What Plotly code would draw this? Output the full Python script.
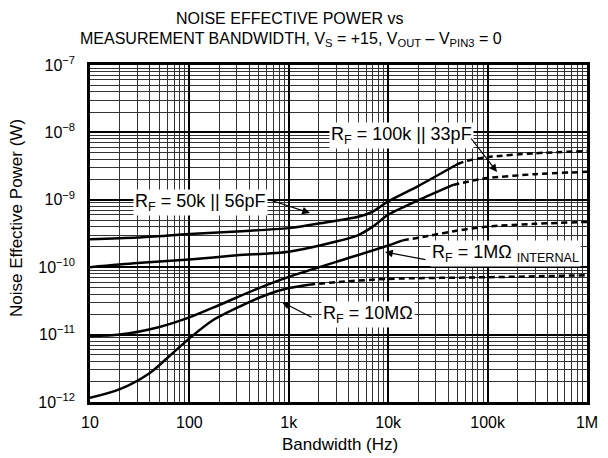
import plotly.graph_objects as go

# ---------------- data ----------------
a_solid_f = [10, 30, 100, 300, 1000, 2500, 5000, 7000, 10000, 20000, 50000]
a_solid_p = [2.6e-10, 2.75e-10, 3.1e-10, 3.4e-10, 3.8e-10, 4.7e-10, 5.6e-10, 6.7e-10, 9.5e-10, 1.6e-9, 3.4e-9]
a_dash_f = [50000, 62000, 100000, 300000, 1000000]
a_dash_p = [3.4e-9, 3.8e-9, 4.3e-9, 4.9e-9, 5.3e-9]

b_solid_f = [10, 30, 100, 300, 1000, 3000, 5000, 7000, 10000, 20000, 45000]
b_solid_p = [1.0e-10, 1.15e-10, 1.3e-10, 1.5e-10, 1.7e-10, 2.4e-10, 3.0e-10, 4.0e-10, 6.0e-10, 9.8e-10, 1.66e-9]
b_dash_f = [45000, 80000, 100000, 300000, 1000000]
b_dash_p = [1.66e-9, 2.0e-9, 2.1e-9, 2.4e-9, 2.6e-9]

c_solid_f = [10, 20, 50, 100, 200, 500, 1000, 3000, 10000, 14000]
c_solid_p = [9.5e-12, 1.0e-11, 1.3e-11, 1.8e-11, 2.75e-11, 4.9e-11, 7.2e-11, 1.2e-10, 2.1e-10, 2.5e-10]
c_dash_f = [14000, 25000, 50000, 100000, 300000, 1000000]
c_dash_p = [2.5e-10, 2.9e-10, 3.5e-10, 4.0e-10, 4.4e-10, 4.7e-10]

d_solid_f = [10, 20, 40, 60, 100, 175, 300, 600, 1000, 1600]
d_solid_p = [1.15e-12, 1.55e-12, 2.7e-12, 4.5e-12, 8.8e-12, 1.66e-11, 2.5e-11, 3.9e-11, 4.9e-11, 5.5e-11]
d_dash_f = [1600, 3000, 10000, 100000, 1000000]
d_dash_p = [5.5e-11, 6.0e-11, 6.7e-11, 7.1e-11, 7.6e-11]

x_tick_vals = [10, 100, 1000, 10000, 100000, 1000000]
x_tick_text = ["10", "100", "1k", "10k", "100k", "1M"]
y_tick_vals = [1e-12, 1e-11, 1e-10, 1e-9, 1e-8, 1e-7]
y_tick_text = ["10<sup>−12</sup>", "10<sup>−11</sup>", "10<sup>−10</sup>",
               "10<sup>−9</sup>", "10<sup>−8</sup>", "10<sup>−7</sup>"]

labels = ["R<sub>F</sub> = 50k || 56pF",
          "R<sub>F</sub> = 100k || 33pF",
          "R<sub>F</sub> = 1MΩ <sub>INTERNAL</sub>",
          "R<sub>F</sub> = 10MΩ"]

title_1 = "NOISE EFFECTIVE POWER vs"
title_2 = "MEASUREMENT BANDWIDTH, V<sub>S</sub> = +15, V<sub>OUT</sub> – V<sub>PIN3</sub> = 0"
x_title = "Bandwidth (Hz)"
y_title = "Noise Effective Power (W)"

# ---------------- layout geometry ----------------
OFF = 8  # page body margin
W, H = 608 - OFF, 458 - OFF
PLOT_L, PLOT_R, PLOT_T, PLOT_B = 90, 587, 65, 402  # in window pixels
ML, MT = PLOT_L - OFF, PLOT_T - OFF
MR = W - (PLOT_R - OFF)
MB = H - (PLOT_B - OFF)
PW, PH = PLOT_R - PLOT_L, PLOT_B - PLOT_T
FONT = "Liberation Sans, Arial, Helvetica, sans-serif"


def px(xp):
    return (xp - PLOT_L) / PW


def py(yp):
    return (PLOT_B - yp) / PH


fig = go.Figure()
LW = 2.5
for (sf, sp), (df, dp) in [((a_solid_f, a_solid_p), (a_dash_f, a_dash_p)),
                           ((b_solid_f, b_solid_p), (b_dash_f, b_dash_p)),
                           ((c_solid_f, c_solid_p), (c_dash_f, c_dash_p)),
                           ((d_solid_f, d_solid_p), (d_dash_f, d_dash_p))]:
    fig.add_trace(go.Scatter(x=sf, y=sp, mode="lines",
                             line=dict(color="black", width=LW, shape="spline", smoothing=0.8),
                             showlegend=False, hoverinfo="skip"))
    fig.add_trace(go.Scatter(x=df, y=dp, mode="lines",
                             line=dict(color="black", width=LW, shape="spline", smoothing=0.8,
                                       dash="6px,4px"),
                             showlegend=False, hoverinfo="skip"))

annotations = []
label_pos = [(200, 202), (401, 136), (505, 254), (368, 314)]
for txt, (cx, cy) in zip(labels, label_pos):
    annotations.append(dict(text=txt, x=px(cx), y=py(cy), xref="paper", yref="paper",
                            showarrow=False, xanchor="center", yanchor="middle",
                            bgcolor="white", borderpad=1,
                            font=dict(family=FONT, size=18, color="black")))
arrows = [((270, 200), (310, 213)), ((470, 137), (497, 172)),
          ((427, 260), (385, 252)), ((313, 318), (282, 302))]
for (tx, ty), (hx, hy) in arrows:
    annotations.append(dict(text="", x=px(hx), y=py(hy), xref="paper", yref="paper",
                            ax=tx - hx, ay=ty - hy, showarrow=True,
                            arrowhead=2, arrowsize=1.3, arrowwidth=1.2, arrowcolor="black"))

annotations.append(dict(text=title_1, x=px(290), y=py(19), xref="paper", yref="paper",
                        showarrow=False, xanchor="center", yanchor="middle",
                        font=dict(family=FONT, size=16, color="black")))
annotations.append(dict(text=title_2, x=px(291), y=py(39), xref="paper", yref="paper",
                        showarrow=False, xanchor="center", yanchor="middle",
                        font=dict(family=FONT, size=16, color="black")))
annotations.append(dict(text=x_title, x=px(340), y=py(444), xref="paper", yref="paper",
                        showarrow=False, xanchor="center", yanchor="middle",
                        font=dict(family=FONT, size=17, color="black")))
annotations.append(dict(text=y_title, x=px(16), y=py(218), xref="paper", yref="paper",
                        showarrow=False, xanchor="center", yanchor="middle", textangle=-90,
                        font=dict(family=FONT, size=17, color="black")))

grid_common = dict(showgrid=True, gridcolor="black", gridwidth=1.8,
                   showline=True, mirror=True, linecolor="black", linewidth=2.5,
                   ticks="", zeroline=False, tickmode="array",
                   minor=dict(dtick="D1", showgrid=True, gridcolor="#333333", gridwidth=0.9, ticks=""))

fig.update_xaxes(type="log", range=[1, 6], tickvals=x_tick_vals, ticktext=x_tick_text,
                 tickfont=dict(family=FONT, size=16, color="black"),
                 ticklabelstandoff=4, **grid_common)
fig.update_yaxes(type="log", range=[-12, -7], tickvals=y_tick_vals, ticktext=y_tick_text,
                 tickfont=dict(family=FONT, size=16, color="black"),
                 ticklabelstandoff=9, **grid_common)

fig.update_layout(width=W, height=H, margin=dict(l=ML, r=MR, t=MT, b=MB, autoexpand=False),
                  paper_bgcolor="white", plot_bgcolor="white",
                  font=dict(family=FONT, color="black"),
                  annotations=annotations, showlegend=False)

fig.write_html("out.html")
